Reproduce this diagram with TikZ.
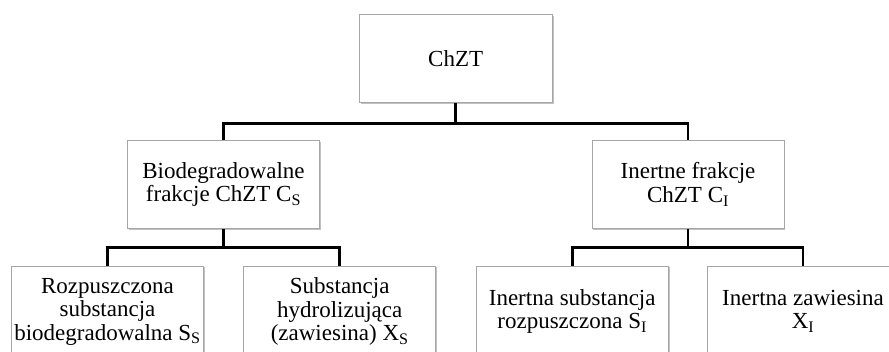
\documentclass[tikz,border=0pt]{standalone}
\usepackage{fontspec}
\setmainfont{Liberation Serif}
\usetikzlibrary{shadows}
\tikzset{
  box/.style={draw=black!35, line width=0.9pt, fill=white, align=center,
    inner sep=0pt, font=\fontsize{23}{23.5}\selectfont,
    drop shadow={shadow xshift=1.3pt, shadow yshift=-1.5pt, fill=black!30, opacity=0.8}},
  conn/.style={line width=2.8pt, line join=miter, draw=black}
}
\begin{document}
\begin{tikzpicture}[x=1pt,y=-1pt]
\useasboundingbox (0,0) rectangle (889,352);
\clip (0,0) rectangle (889,352);
\coordinate (bus1) at (0,123.3);
\coordinate (bus2) at (0,247.7);
\node[box, minimum width=193pt, minimum height=88pt] (top) at (455.7,58.7) {ChZT};
\node[box, minimum width=192pt, minimum height=88pt] (bio) at (223.5,184.5) {Biodegradowalne\\frakcje ChZT C\textsubscript{S}};
\node[box, minimum width=192pt, minimum height=88pt] (ine) at (688,184.5) {Inertne frakcje\\ChZT C\textsubscript{I}};
\node[box, minimum width=192pt, minimum height=91pt] (b1) at (107.5,311.5) {Rozpuszczona\\substancja\\biodegradowalna S\textsubscript{S}};
\node[box, minimum width=192pt, minimum height=91pt] (b2) at (339.7,311.5) {Substancja\\hydrolizująca\\(zawiesina) X\textsubscript{S}};
\node[box, minimum width=192pt, minimum height=91pt] (b3) at (572.2,311.5) {Inertna substancja\\rozpuszczona S\textsubscript{I}};
\node[box, minimum width=192pt, minimum height=91pt] (b4) at (803,311.5) {Inertna zawiesina\\X\textsubscript{I}};
\draw[conn] (top.south) -- (top.south |- bus1) -| (bio.north);
\draw[conn] (top.south) -- (top.south |- bus1) -| (ine.north);
\draw[conn] (bio.south) -- (bio.south |- bus2) -| (b1.north);
\draw[conn] (bio.south) -- (bio.south |- bus2) -| (b2.north);
\draw[conn] (ine.south) -- (ine.south |- bus2) -| (b3.north);
\draw[conn] (ine.south) -- (ine.south |- bus2) -| (b4.north);
\end{tikzpicture}
\end{document}
